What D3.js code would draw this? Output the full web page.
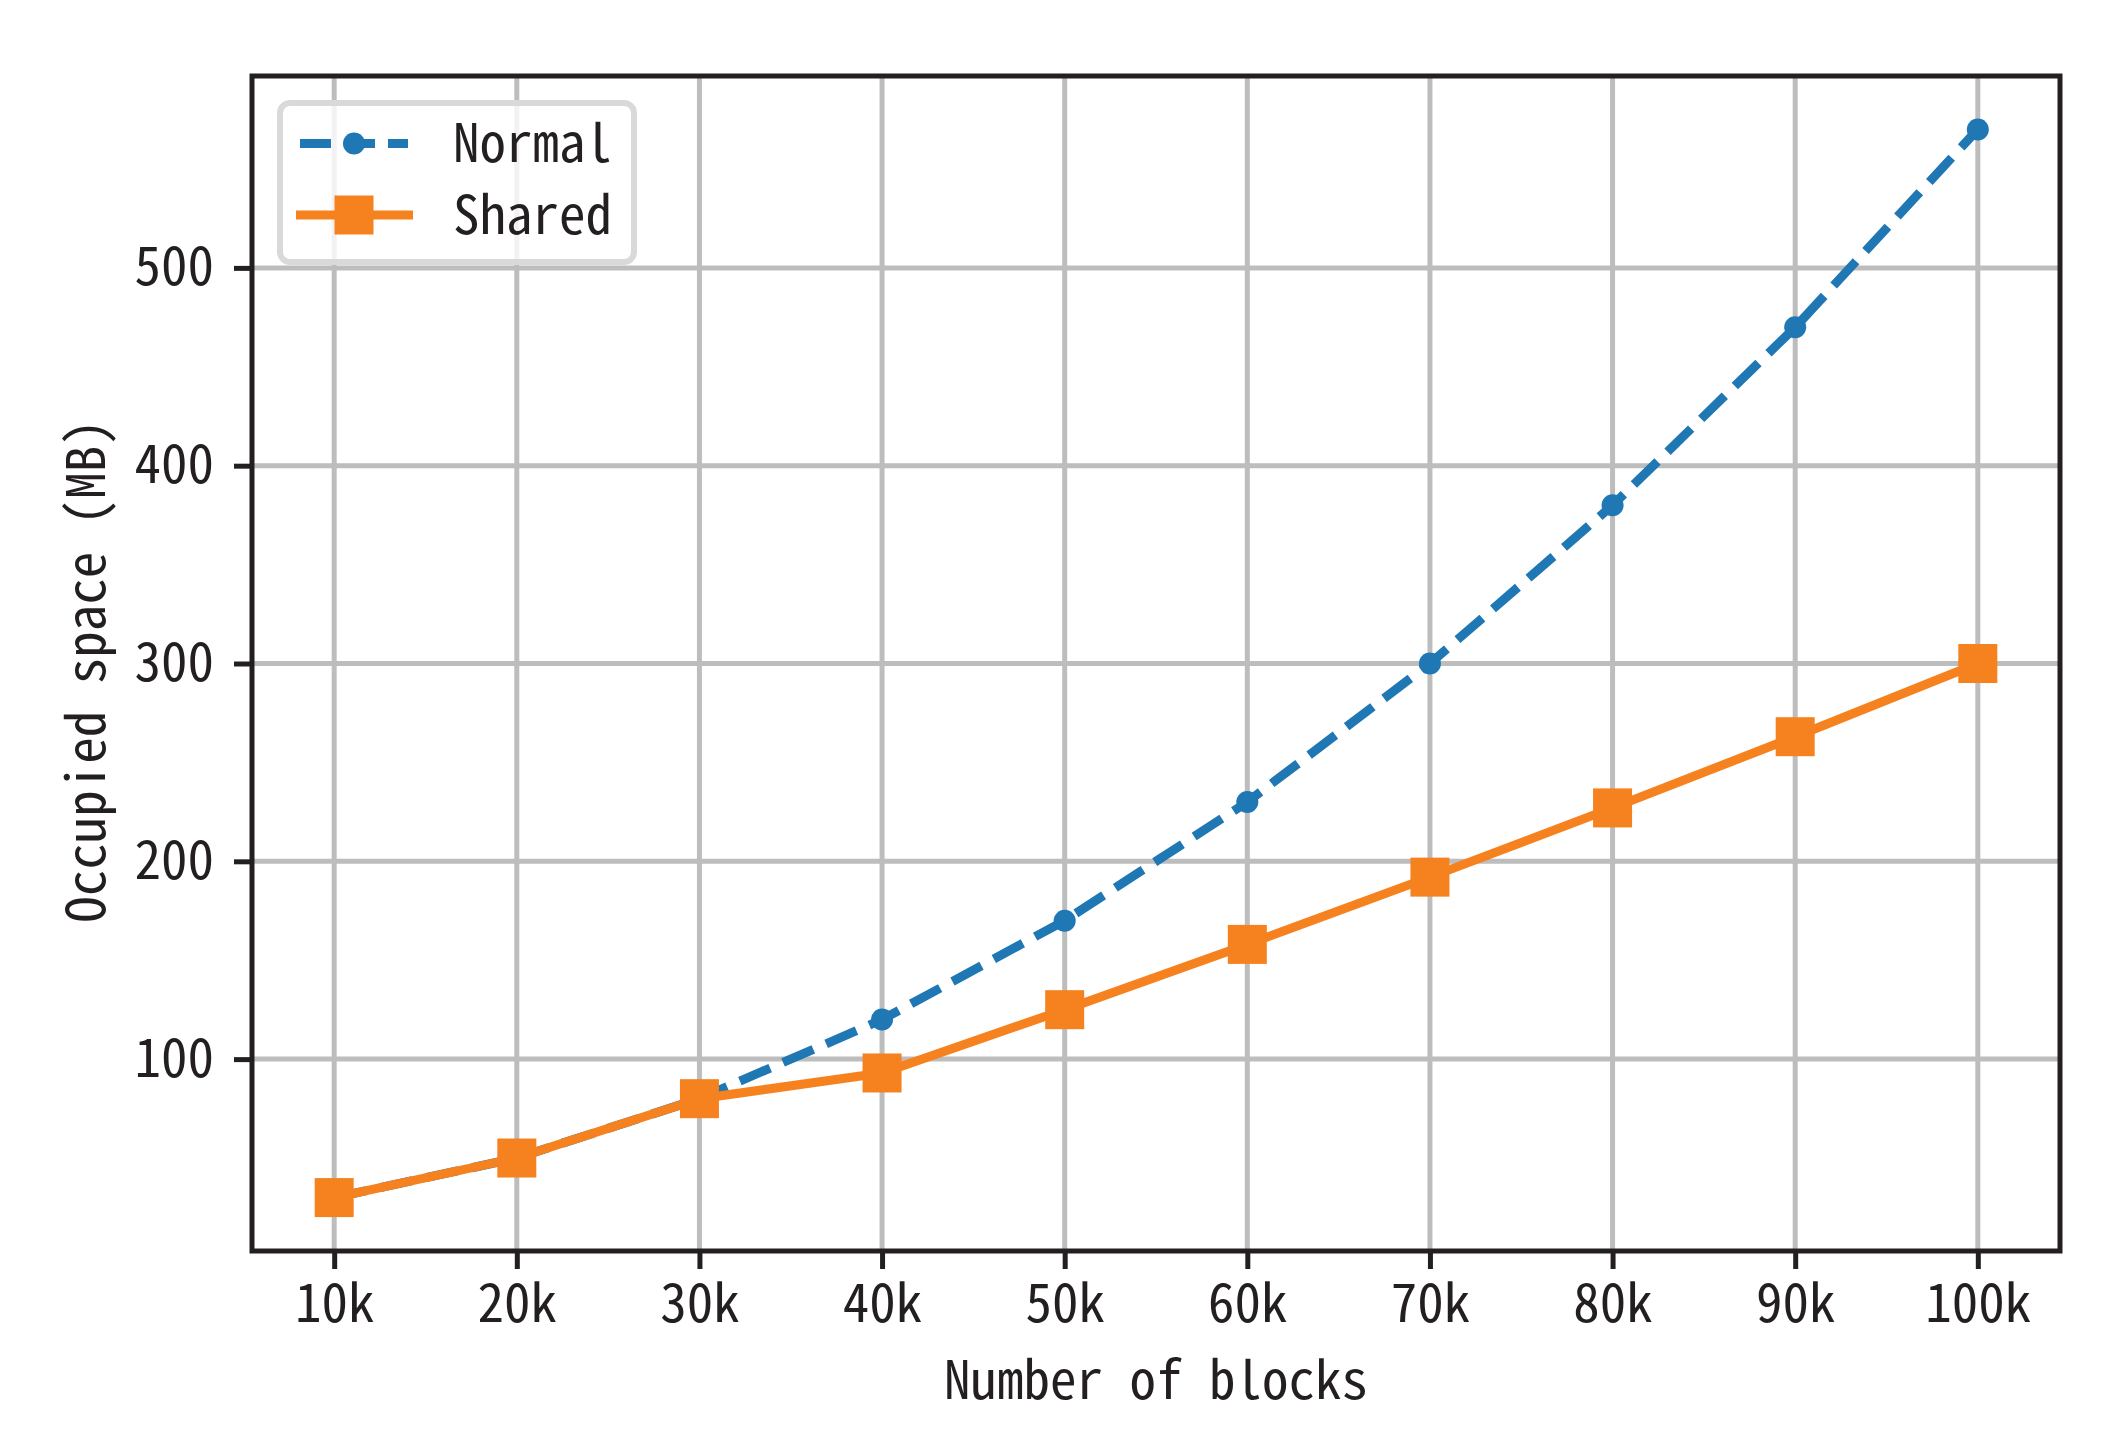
<!DOCTYPE html>
<html>
<head>
<meta charset="utf-8">
<script src="https://cdn.jsdelivr.net/npm/d3@7"></script>
<style>
  body { margin: 0; background: #fff; }
  text { font-family: "Noto Sans Mono CJK SC", "DejaVu Sans Mono", monospace; fill: #231f20; }
</style>
</head>
<body>
<div id="chart"></div>
<script>
// data
var blocks = ["10k", "20k", "30k", "40k", "50k", "60k", "70k", "80k", "90k", "100k"];
var blockNums = [10, 20, 30, 40, 50, 60, 70, 80, 90, 100];
var normal = [30, 50, 80, 120, 170, 230, 300, 380, 470, 570];
var shared = [30, 50, 80, 93, 125, 158, 192, 227, 263, 300];
var yTicks = [100, 200, 300, 400, 500];

var W = 2120, H = 1444;
var margin = { top: 76, right: 60, bottom: 193, left: 252 },
    width = W - margin.left - margin.right,
    height = H - margin.top - margin.bottom;

var fontSize = 53;
var blue = "#1f77b4", orange = "#f5821f", gridCol = "#bdbdbd", ink = "#231f20";
var lw = 9;

var svg = d3.select("#chart")
    .append("svg")
    .attr("width", W)
    .attr("height", H);

var g = svg.append("g")
    .attr("transform", "translate(" + margin.left + "," + margin.top + ")");

// matplotlib style 5% padding around the data
var x = d3.scaleLinear().domain([5.5, 104.5]).range([0, width]);
var y = d3.scaleLinear().domain([3, 597]).range([height, 0]);

// grid
g.selectAll(".vgrid")
    .data(blockNums)
    .enter()
    .append("line")
    .attr("x1", function(d) { return x(d) })
    .attr("x2", function(d) { return x(d) })
    .attr("y1", 0)
    .attr("y2", height)
    .attr("stroke", gridCol)
    .attr("stroke-width", 5);

g.selectAll(".hgrid")
    .data(yTicks)
    .enter()
    .append("line")
    .attr("x1", 0)
    .attr("x2", width)
    .attr("y1", function(d) { return y(d) })
    .attr("y2", function(d) { return y(d) })
    .attr("stroke", gridCol)
    .attr("stroke-width", 5);

// axes
var xAxis = d3.axisBottom(x)
    .tickValues(blockNums)
    .tickFormat(function(d, i) { return blocks[i] })
    .tickSize(18)
    .tickPadding(15);
var yAxis = d3.axisLeft(y)
    .tickValues(yTicks)
    .tickSize(18)
    .tickPadding(20);

var gx = g.append("g").attr("transform", "translate(0," + height + ")").call(xAxis);
var gy = g.append("g").call(yAxis);
[gx, gy].forEach(function(a) {
    a.select(".domain").remove();
    a.selectAll(".tick line").attr("stroke", ink).attr("stroke-width", 5);
    a.selectAll(".tick text")
        .style("font-size", fontSize + "px")
        .style("font-family", null)
        .attr("fill", ink);
});

// lines
var line = d3.line()
    .x(function(d, i) { return x(blockNums[i]) })
    .y(function(d) { return y(d) });

g.append("path")
    .datum(normal)
    .attr("d", line)
    .attr("fill", "none")
    .attr("stroke", blue)
    .attr("stroke-width", lw)
    .attr("stroke-dasharray", "33,14");

g.selectAll(".ndot")
    .data(normal)
    .enter()
    .append("circle")
    .attr("cx", function(d, i) { return x(blockNums[i]) })
    .attr("cy", function(d) { return y(d) })
    .attr("r", 11)
    .attr("fill", blue);

g.append("path")
    .datum(shared)
    .attr("d", line)
    .attr("fill", "none")
    .attr("stroke", orange)
    .attr("stroke-width", lw)
    .attr("stroke-linejoin", "round");

var sq = 39;
g.selectAll(".ssq")
    .data(shared)
    .enter()
    .append("rect")
    .attr("x", function(d, i) { return x(blockNums[i]) - sq / 2 })
    .attr("y", function(d) { return y(d) - sq / 2 })
    .attr("width", sq)
    .attr("height", sq)
    .attr("fill", orange);

// frame
g.append("rect")
    .attr("width", width)
    .attr("height", height)
    .attr("fill", "none")
    .attr("stroke", ink)
    .attr("stroke-width", 5);

// legend
var lg = svg.append("g");
lg.append("rect")
    .attr("x", 280).attr("y", 103)
    .attr("width", 354).attr("height", 159)
    .attr("rx", 10)
    .attr("fill", "#fff").attr("fill-opacity", 0.8)
    .attr("stroke", "#d9d9d9").attr("stroke-width", 6);

lg.append("line")
    .attr("x1", 300).attr("x2", 408).attr("y1", 143.5).attr("y2", 143.5)
    .attr("stroke", blue).attr("stroke-width", lw)
    .attr("stroke-dasharray", "31,13");
lg.append("circle").attr("cx", 354).attr("cy", 143.5).attr("r", 11).attr("fill", blue);

lg.append("line")
    .attr("x1", 296).attr("x2", 413).attr("y1", 215).attr("y2", 215)
    .attr("stroke", orange).attr("stroke-width", lw);
lg.append("rect").attr("x", 354 - sq / 2).attr("y", 215 - sq / 2)
    .attr("width", sq).attr("height", sq).attr("fill", orange);

lg.selectAll(".ltxt")
    .data(["Normal", "Shared"])
    .enter()
    .append("text")
    .attr("x", 453)
    .attr("y", function(d, i) { return 143.5 + i * 71.5 })
    .attr("dy", "0.35em")
    .style("font-size", fontSize + "px")
    .text(function(d) { return d });

// axis titles
svg.append("text")
    .attr("x", margin.left + width / 2)
    .attr("y", 1399)
    .attr("text-anchor", "middle")
    .style("font-size", fontSize + "px")
    .text("Number of blocks");

svg.append("text")
    .attr("transform", "translate(105,671) rotate(-90)")
    .attr("text-anchor", "middle")
    .style("font-size", fontSize + "px")
    .text("Occupied space (MB)");
</script>
</body>
</html>
